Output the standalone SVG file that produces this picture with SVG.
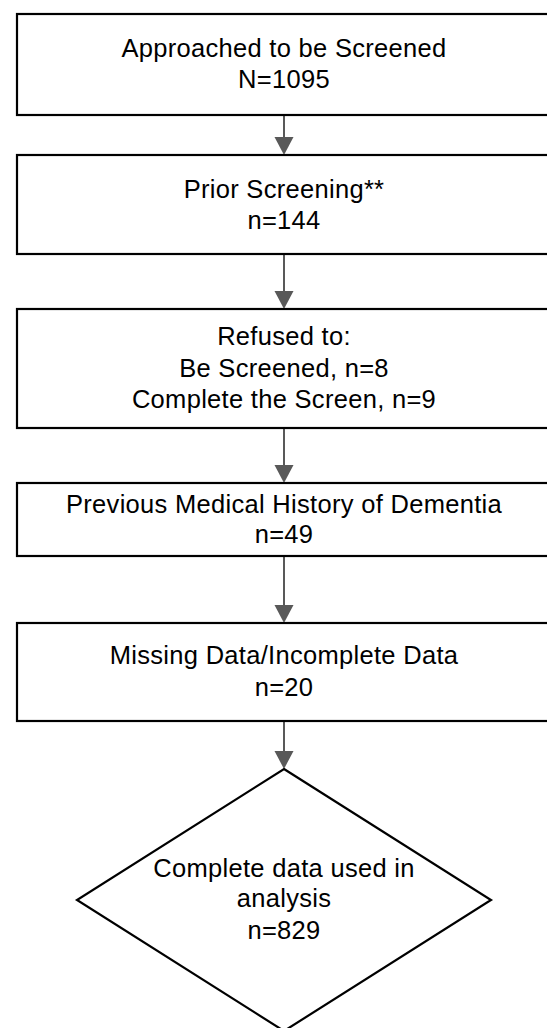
<svg xmlns="http://www.w3.org/2000/svg" width="547" height="1028" viewBox="0 0 547 1028">
<defs>
<style>
.box{fill:#fff;stroke:#000;stroke-width:2.2}
.t{font-family:"Liberation Sans",Arial,sans-serif;font-size:25.5px;letter-spacing:0.3px;fill:#000;text-anchor:middle}
.ln{stroke:#595959;stroke-width:2;fill:none}
.hd{fill:#595959}
</style>
</defs>
<rect width="547" height="1028" fill="#fff"/>
<g id="connectors">
<line class="ln" x1="284" y1="115" x2="284" y2="139"/><polygon class="hd" points="274.5,137 293.5,137 284,155"/>
<line class="ln" x1="284" y1="254" x2="284" y2="293"/><polygon class="hd" points="274.5,291 293.5,291 284,309"/>
<line class="ln" x1="284" y1="428" x2="284" y2="467"/><polygon class="hd" points="274.5,465 293.5,465 284,483"/>
<line class="ln" x1="284" y1="556" x2="284" y2="607"/><polygon class="hd" points="274.5,605 293.5,605 284,623"/>
<line class="ln" x1="284" y1="721" x2="284" y2="753"/><polygon class="hd" points="274.5,751 293.5,751 284,769"/>
</g>
<g id="n1"><rect class="box" x="17" y="14" width="540" height="101"/>
<text class="t" x="284" y="57">Approached to be Screened</text><text class="t" x="284" y="88">N=1095</text></g>
<g id="n2"><rect class="box" x="17" y="155" width="540" height="99"/>
<text class="t" x="284" y="198">Prior Screening**</text><text class="t" x="284" y="228.5">n=144</text></g>
<g id="n3"><rect class="box" x="17" y="309" width="540" height="119"/>
<text class="t" x="284" y="345">Refused to:</text><text class="t" x="284" y="376.5">Be Screened, n=8</text><text class="t" x="284" y="407.5">Complete the Screen, n=9</text></g>
<g id="n4"><rect class="box" x="17" y="483" width="540" height="73"/>
<text class="t" x="284" y="512.5">Previous Medical History of Dementia</text><text class="t" x="284" y="543">n=49</text></g>
<g id="n5"><rect class="box" x="17" y="623" width="540" height="98"/>
<text class="t" x="284" y="664">Missing Data/Incomplete Data</text><text class="t" x="284" y="696">n=20</text></g>
<g id="n6"><polygon class="box" points="284,769 491,900 284,1031 77,900"/>
<text class="t" x="284" y="876.5">Complete data used in</text><text class="t" x="284" y="907">analysis</text><text class="t" x="284" y="939">n=829</text></g>
</svg>
